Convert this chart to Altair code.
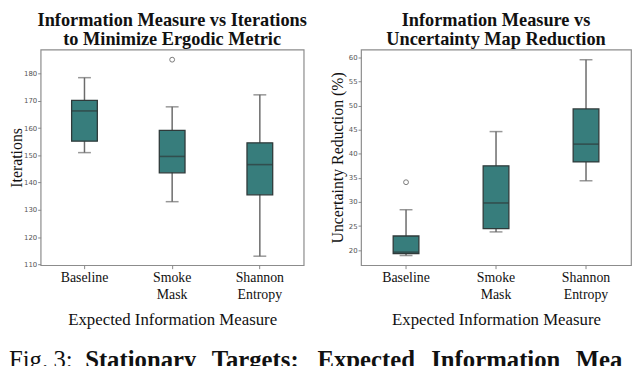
import altair as alt
import pandas as pd

categories = ["Baseline", "Smoke Mask", "Shannon Entropy"]

# Left panel: iterations to minimize ergodic metric (box-plot summaries)
iter_low = [151.0, 133.0, 113.0]
iter_q1 = [155.2, 143.6, 135.5]
iter_med = [166.3, 149.6, 146.6]
iter_q3 = [170.2, 159.2, 154.6]
iter_high = [178.5, 167.8, 172.2]
iter_out_cat = ["Smoke Mask"]
iter_out_val = [185.1]
iter_ticks = [110, 120, 130, 140, 150, 160, 170, 180]

# Right panel: uncertainty map reduction (%)
unc_low = [18.9, 23.8, 34.4]
unc_q1 = [19.3, 24.5, 38.3]
unc_med = [19.6, 29.8, 42.0]
unc_q3 = [22.95, 37.5, 49.3]
unc_high = [28.4, 44.6, 59.5]
unc_out_cat = ["Baseline"]
unc_out_val = [34.1]
unc_ticks = [20, 25, 30, 35, 40, 45, 50, 55, 60]

caption_words = ["Fig.", "3:", "Stationary", "Targets:", "Expected", "Information", "Mea-"]
caption_style = ["regular", "regular", "bold", "bold", "bold", "bold", "cut"]
caption_x = [8, 53, 85, 213, 320, 435, 581]

TEAL = "#377d7c"
EDGE = "#2f3a3a"
WHISK = "#6b6b6b"
SERIF = "Liberation Serif"


def panel(lo, q1, med, q3, hi, ocat, oval, domain, ticks, ytitle, title, width):
    df = pd.DataFrame({"cat": categories, "lo": lo, "q1": q1, "med": med, "q3": q3, "hi": hi})
    odf = pd.DataFrame({"cat": ocat, "val": oval})
    x = alt.X(
        "cat:N",
        sort=categories,
        scale=alt.Scale(paddingInner=0, paddingOuter=0),
        axis=alt.Axis(
            title="Expected Information Measure",
            labelAngle=0,
            labelExpr="split(datum.label, ' ')",
            labelFont=SERIF,
            labelFontSize=14,
            labelColor="#111",
            labelLineHeight=17,
            labelPadding=2,
            tickSize=3.5,
            tickColor="#888",
            domain=False,
            titleFont=SERIF,
            titleFontSize=17,
            titleFontWeight="normal",
            titleColor="#111",
            titlePadding=10,
        ),
    )
    yscale = alt.Scale(domain=domain, nice=False, zero=False)
    yaxis = alt.Axis(
        values=ticks,
        title=ytitle,
        grid=False,
        domain=False,
        labelFont="DejaVu Sans",
        labelFontSize=7,
        labelColor="#555",
        labelPadding=1,
        tickSize=3,
        tickColor="#888",
        minExtent=16,
        maxExtent=16,
        titleFont=SERIF,
        titleFontSize=16,
        titleFontWeight="normal",
        titleColor="#111",
        titlePadding=0,
    )

    def Y(field):
        return alt.Y(field, scale=yscale, axis=yaxis)

    base = alt.Chart(df)
    whisk = base.mark_rule(color=WHISK, strokeWidth=1.5).encode(x=x, y=Y("lo:Q"), y2="hi:Q")
    cap_lo = base.mark_tick(color=WHISK, size=13, thickness=1.5).encode(x=x, y=Y("lo:Q"))
    cap_hi = base.mark_tick(color=WHISK, size=13, thickness=1.5).encode(x=x, y=Y("hi:Q"))
    box = base.mark_bar(size=26, fill=TEAL, stroke=EDGE, strokeWidth=1.3).encode(
        x=x, y=Y("q1:Q"), y2="q3:Q"
    )
    median = base.mark_tick(size=26, thickness=1.6, color=EDGE).encode(x=x, y=Y("med:Q"))
    outl = alt.Chart(odf).mark_point(
        shape="circle", filled=False, color="#444", size=24, strokeWidth=1
    ).encode(x=x, y=Y("val:Q"))
    return alt.layer(whisk, cap_lo, cap_hi, box, median, outl).properties(
        width=width,
        height=218,
        title=alt.TitleParams(
            text=title,
            font=SERIF,
            fontSize=18.5,
            fontWeight="bold",
            lineHeight=19.5,
            anchor="middle",
            offset=1,
            color="#111",
        ),
    )


left = panel(
    iter_low, iter_q1, iter_med, iter_q3, iter_high, iter_out_cat, iter_out_val,
    [109.7, 188.8], iter_ticks, "Iterations",
    ["Information Measure vs Iterations", "to Minimize Ergodic Metric"], 266,
)
right = panel(
    unc_low, unc_q1, unc_med, unc_q3, unc_high, unc_out_cat, unc_out_val,
    [16.9, 61.6], unc_ticks, "Uncertainty Reduction (%)",
    ["Information Measure vs", "Uncertainty Map Reduction"], 273,
)

# caption view starts at the left plot's origin (page x = 40)
CAP_W = 580
cap_df = pd.DataFrame({"word": caption_words, "x": caption_x, "style": caption_style})
cap_x = alt.X("x:Q", scale=alt.Scale(domain=[40, 40 + CAP_W], nice=False, zero=False), axis=None)
cap_base = alt.Chart(cap_df)
cap_reg = cap_base.transform_filter("datum.style == 'regular'").mark_text(
    font=SERIF, fontSize=25, align="left", baseline="alphabetic", color="#111"
).encode(x=cap_x, y=alt.value(30), text="word:N")
cap_bold = cap_base.transform_filter("datum.style == 'bold'").mark_text(
    font=SERIF, fontSize=25, fontWeight="bold", align="left", baseline="alphabetic",
    color="#111"
).encode(x=cap_x, y=alt.value(30), text="word:N")
cap_cut = cap_base.transform_filter("datum.style == 'cut'").mark_text(
    font=SERIF, fontSize=25, fontWeight="bold", align="left", baseline="alphabetic",
    color="#111", limit=51, ellipsis="\u200a"
).encode(x=cap_x, y=alt.value(30), text="word:N")
caption = alt.layer(cap_reg, cap_bold, cap_cut).properties(
    width=CAP_W, height=10, view=alt.ViewBackground(stroke="transparent")
)

top = alt.hconcat(left, right, spacing=21)
chart = alt.vconcat(top, caption, spacing=9).properties(padding=0).configure_view(
    stroke="#8c8c8c", strokeWidth=1.2
)

chart.save("out.html", embed_options={"renderer": "svg", "actions": False})
